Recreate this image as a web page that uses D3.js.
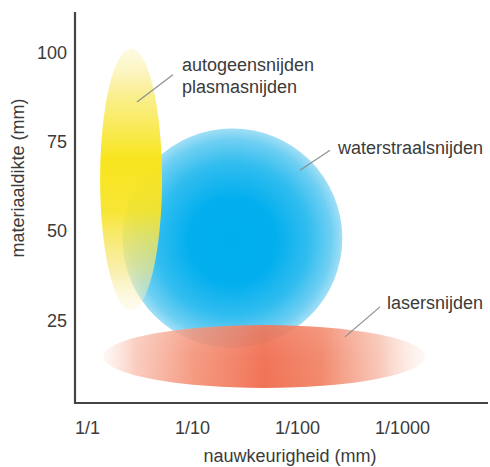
<!DOCTYPE html>
<html>
<head>
<meta charset="utf-8">
<script src="https://cdn.jsdelivr.net/npm/d3@7"></script>
<style>
  html, body { margin: 0; padding: 0; background: #ffffff; }
  svg { display: block; font-family: "Liberation Sans", Arial, Helvetica, sans-serif; }
</style>
</head>
<body>
<svg id="chart" width="490" height="467"></svg>
<script>
// ---- data ----
const xTickValues = [1, 0.1, 0.01, 0.001];
const xTickLabels = ["1/1", "1/10", "1/100", "1/1000"];
const yTickValues = [25, 50, 75, 100];
const yTickLabels = ["25", "50", "75", "100"];
const xTitle = "nauwkeurigheid (mm)";
const yTitle = "materiaaldikte (mm)";

// process regions: accuracy range (mm) and thickness range (mm)
const processes = ["autogeen/plasma", "waterstraal", "laser"];
const accuracyCoarse = [0.75, 0.46, 0.70];
const accuracyFine   = [0.193, 0.0037, 0.0006];
const thicknessMin   = [27.7, 17.1, 5.9];
const thicknessMax   = [101, 78.6, 23.5];

// labels (data coordinates)
const labelLines = [["autogeensnijden", "plasmasnijden"], ["waterstraalsnijden"], ["lasersnijden"]];
const labelX = [0.1245, 0.00407, 0.00139];
const labelY = [96.4, 73.1, 29.7];
const leaderFromX = [0.334, 0.00936, 0.00349];
const leaderFromY = [86, 66.9, 20.2];
const leaderToX = [0.152, 0.00485, 0.00162];
const leaderToY = [93.6, 72.5, 28.6];

// ---- drawing ----
const svg = d3.select("#chart");
const x = d3.scaleLog().domain([1, 0.001]).range([87, 402]);
const y = d3.scaleLinear().domain([0, 100]).range([409, 52]);
const axisLeftX = 75, axisBottomY = 403, axisTopY = 12, axisRightX = 488;
const textColor = "#3b3b3b";

const defs = svg.append("defs");
// yellow: vertical gradient
const gY = defs.append("linearGradient").attr("id", "gYellow").attr("x1", 0).attr("y1", 0).attr("x2", 0).attr("y2", 1);
[[0, "#fbf3c0", 0.45], [0.18, "#f9ec7a", 0.85], [0.42, "#f8e51e", 1], [0.62, "#f7e42a", 0.95], [0.85, "#f6e88a", 0.7], [1, "#fbf4cf", 0.3]]
  .forEach(s => gY.append("stop").attr("offset", s[0]).attr("stop-color", s[1]).attr("stop-opacity", s[2]));
// blue: radial
const gB = defs.append("radialGradient").attr("id", "gBlue").attr("cx", 0.5).attr("cy", 0.5).attr("r", 0.5).attr("fx", 0.5).attr("fy", 0.52);
[[0, "#00aeef", 1], [0.4, "#03afee", 1], [0.7, "#2cbbef", 0.97], [0.9, "#62cbf1", 0.92], [1, "#90d9f4", 0.85]]
  .forEach(s => gB.append("stop").attr("offset", s[0]).attr("stop-color", s[1]).attr("stop-opacity", s[2]));
// red: horizontal fade
const gR = defs.append("linearGradient").attr("id", "gRed").attr("x1", 0).attr("y1", 0).attr("x2", 1).attr("y2", 0);
[[0, "#fde4da", 0.3], [0.1, "#f8bba8", 0.75], [0.28, "#f3886b", 0.85], [0.5, "#ef6343", 0.9], [0.68, "#f07a5a", 0.88], [0.86, "#f6b29d", 0.72], [1, "#fde6de", 0.25]]
  .forEach(s => gR.append("stop").attr("offset", s[0]).attr("stop-color", s[1]).attr("stop-opacity", s[2]));
// red vertical shading (slightly lighter top)
const gR2 = defs.append("linearGradient").attr("id", "gRedV").attr("x1", 0).attr("y1", 0).attr("x2", 0).attr("y2", 1);
[[0, "#ffffff", 0.12], [0.5, "#ffffff", 0.02], [1, "#ffffff", 0]]
  .forEach(s => gR2.append("stop").attr("offset", s[0]).attr("stop-color", s[1]).attr("stop-opacity", s[2]));

const fills = ["url(#gYellow)", "url(#gBlue)", "url(#gRed)"];
const order = [1, 0, 2]; // blue below, yellow, red on top
const regions = svg.append("g");
order.forEach(i => {
  const x0 = x(accuracyCoarse[i]), x1 = x(accuracyFine[i]);
  const y0 = y(thicknessMax[i]), y1 = y(thicknessMin[i]);
  regions.append("ellipse")
    .attr("cx", (x0 + x1) / 2).attr("cy", (y0 + y1) / 2)
    .attr("rx", Math.abs(x1 - x0) / 2).attr("ry", Math.abs(y1 - y0) / 2)
    .attr("fill", fills[i]);
  if (i === 2) {
    regions.append("ellipse")
      .attr("cx", (x0 + x1) / 2).attr("cy", (y0 + y1) / 2)
      .attr("rx", Math.abs(x1 - x0) / 2).attr("ry", Math.abs(y1 - y0) / 2)
      .attr("fill", "url(#gRedV)");
  }
});

// leader lines and labels
processes.forEach((p, i) => {
  svg.append("line")
    .attr("x1", x(leaderFromX[i])).attr("y1", y(leaderFromY[i]))
    .attr("x2", x(leaderToX[i])).attr("y2", y(leaderToY[i]))
    .attr("stroke", "#8a8f93").attr("stroke-width", 1.2);
  const t = svg.append("text")
    .attr("x", x(labelX[i])).attr("y", y(labelY[i]))
    .attr("fill", textColor).attr("font-size", 18);
  labelLines[i].forEach((line, k) => {
    t.append("tspan").attr("x", x(labelX[i])).attr("dy", k === 0 ? "0.35em" : "1.2em").text(line);
  });
});

// axes
svg.append("path")
  .attr("d", `M${axisLeftX},${axisTopY}V${axisBottomY}H${axisRightX}`)
  .attr("fill", "none").attr("stroke", "#444").attr("stroke-width", 2.2);

const yAxis = d3.axisLeft(y).tickValues(yTickValues).tickFormat((d, i) => yTickLabels[i]).tickSize(0).tickPadding(0);
const yg = svg.append("g").attr("transform", "translate(67,0)").call(yAxis);
yg.select(".domain").remove();
yg.selectAll("text").attr("font-size", 18).attr("fill", textColor).attr("font-family", "Liberation Sans, Arial, sans-serif").attr("dy", "0.35em");

const xAxis = d3.axisBottom(x).tickValues(xTickValues).tickFormat((d, i) => xTickLabels[i]).tickSize(0).tickPadding(0);
const xg = svg.append("g").attr("transform", "translate(0,421)").call(xAxis);
xg.select(".domain").remove();
xg.selectAll("text").attr("font-size", 18).attr("fill", textColor).attr("font-family", "Liberation Sans, Arial, sans-serif").attr("dy", "0.71em");

svg.append("text").attr("x", 290).attr("y", 456).attr("text-anchor", "middle")
  .attr("dominant-baseline", "central").attr("font-size", 18).attr("fill", textColor).text(xTitle);
svg.append("text").attr("transform", "translate(18,178) rotate(-90)").attr("text-anchor", "middle")
  .attr("dominant-baseline", "central").attr("font-size", 18).attr("fill", textColor).text(yTitle);
</script>
</body>
</html>
